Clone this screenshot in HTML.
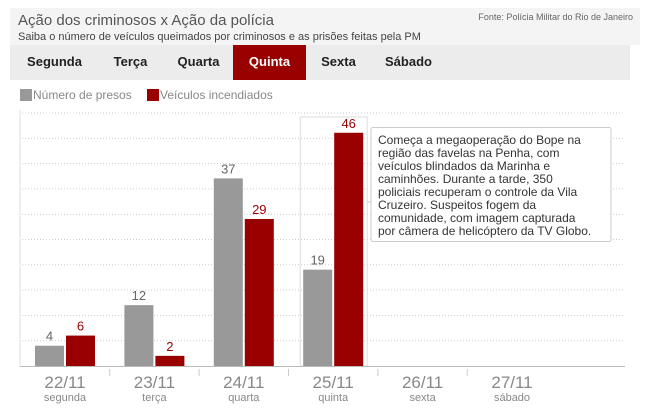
<!DOCTYPE html>
<html><head><meta charset="utf-8"><style>
body{margin:0;background:#fff;font-family:"Liberation Sans",sans-serif;}
#wrap{position:relative;width:645px;height:408px;overflow:hidden;}
.hdr{position:absolute;left:10px;top:8px;width:630px;height:37px;background:#f4f4f4;}
.title{position:absolute;left:18px;top:12px;font-size:15px;color:#555;}
.sub{position:absolute;left:18px;top:31px;font-size:11px;color:#444;}
.src{position:absolute;right:12px;top:12px;font-size:9px;color:#666;}
.tabs{position:absolute;left:10px;top:45px;width:620px;height:35px;background:#ececec;}
.tab{position:absolute;top:45px;height:35px;line-height:33px;font-size:13px;font-weight:bold;color:#222;text-align:center;width:73px;}
.tab.on{background:#990000;color:#fff;}
.leg{position:absolute;top:88px;font-size:12px;color:#888;}
.sw{display:inline-block;width:12px;height:12px;vertical-align:-2px;margin-right:1px;}
</style></head><body><div id="wrap">
<div class="hdr"></div>
<div class="title">Ação dos criminosos x Ação da polícia</div>
<div class="sub">Saiba o número de veículos queimados por criminosos e as prisões feitas pela PM</div>
<div class="src">Fonte: Polícia Militar do Rio de Janeiro</div>
<div class="tabs"></div>
<div class="tab" style="left:18px">Segunda</div>
<div class="tab" style="left:94px">Terça</div>
<div class="tab" style="left:162px">Quarta</div>
<div class="tab on" style="left:233px">Quinta</div>
<div class="tab" style="left:302px">Sexta</div>
<div class="tab" style="left:372px">Sábado</div>
<div class="leg" style="left:20px"><span class="sw" style="background:#999"></span>Número de presos</div>
<div class="leg" style="left:147px"><span class="sw" style="background:#990000"></span>Veículos incendiados</div>
<svg id="chart" width="645" height="408" style="position:absolute;left:0;top:0"></svg>
</div>
<script>
const categories=["22/11","23/11","24/11","25/11","26/11","27/11"];
const dayNames=["segunda","terça","quarta","quinta","sexta","sábado"];
const presos=[4,12,37,19,null,null];
const veiculos=[6,2,29,46,null,null];
const NS="http://www.w3.org/2000/svg";
const svg=document.getElementById("chart");
const base=366, k=5.07;
function y(v){return base-v*k;}
function x(i){return 65+i*89.4;}
function mk(t,a,p){const e=document.createElementNS(NS,t);for(const n in a)e.setAttribute(n,a[n]);(p||svg).appendChild(e);return e;}
for(let j=1;j<=10;j++){const gy=base-j*25.3;
const g=mk("line",{x1:22,x2:625,y1:gy,y2:gy,stroke:"#ccc","stroke-dasharray":"1,2"});

}
const ax=mk("line",{x1:20,x2:20,y1:110,y2:base,stroke:"#ddd"});


const hl=mk("rect",{x:x(3)-33,y:117,width:67,height:base-117,fill:"none",stroke:"#ddd"});


const xa=mk("line",{x1:20,x2:625,y1:base+0.5,y2:base+0.5,stroke:"#bbb"});


categories.forEach((c,i)=>{
 const cx=x(i);
 if(i>0){const s=mk("line",{x1:cx-44.7,x2:cx-44.7,y1:base+3,y2:base+10,stroke:"#ccc"});
 
 }
 const t=mk("text",{x:cx,y:base+22,"text-anchor":"middle","font-size":17,fill:"#888","font-family":"Liberation Sans Narrow, Liberation Sans, sans-serif"});t.textContent=c;
 
 
 const d=mk("text",{x:cx,y:base+35,"text-anchor":"middle","font-size":11,fill:"#888"});d.textContent=dayNames[i];
 
 
 [[presos[i],"#999","#666",-30],[veiculos[i],"#990000","#990000",1]].forEach(([v,f,tc,off])=>{
  if(v==null)return;
  const b=mk("rect",{x:cx+off,y:y(v),width:29,height:v*k,fill:f});
  
  
  const l=mk("text",{x:cx+off+14.5,y:y(v)-5,"text-anchor":"middle","font-size":13,fill:tc});l.textContent=v;
  
  
 });
});
const cn=mk("line",{x1:367,x2:371,y1:202,y2:202,stroke:"#ccc"});


const tb=mk("rect",{x:371,y:127.5,width:240,height:114,fill:"#fff",stroke:"#ccc",rx:2});


const lines=["Começa a megaoperação do Bope na","região das favelas na Penha, com","veículos blindados da Marinha e","caminhões. Durante a tarde, 350","policiais recuperam o controle da Vila","Cruzeiro. Suspeitos fogem da","comunidade, com imagem capturada","por câmera de helicóptero da TV Globo."];
const tt=mk("text",{x:378,y:144,"font-size":12,fill:"#333"});


lines.forEach((s,i)=>{const ts=mk("tspan",{x:378,dy:i?13:0},tt);ts.textContent=s;});
</script></body></html>
